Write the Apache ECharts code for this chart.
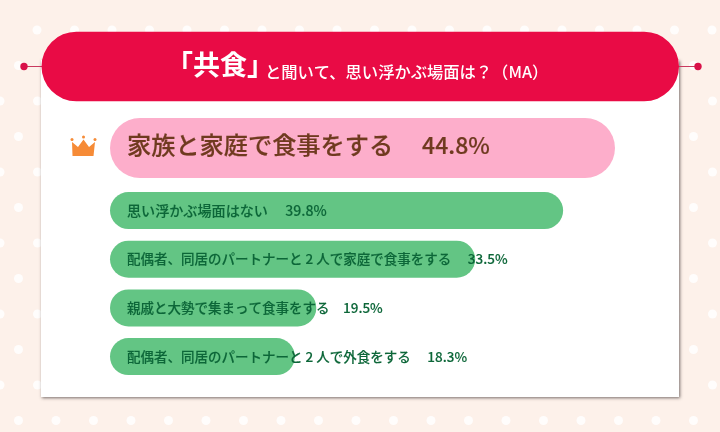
<!DOCTYPE html>
<html>
<head>
<meta charset="utf-8">
<style>
html, body { margin: 0; padding: 0; }
#chart { width: 720px; height: 432px; }
</style>
<script src="https://cdn.jsdelivr.net/npm/echarts@6/dist/echarts.min.js"></script>
</head>
<body>
<div id="chart"></div>
<script>
var categories = [
    "家族と家庭で食事をする",
    "思い浮かぶ場面はない",
    "配偶者、同居のパートナーと 2 人で家庭で食事をする",
    "親戚と大勢で集まって食事をする",
    "配偶者、同居のパートナーと 2 人で外食をする"
];
// the percentages printed in the picture
var shares = [44.8, 39.8, 33.5, 19.5, 18.3];
// the bars in the picture are not drawn to the printed percentages,
// these are their lengths as measured, in units of the same axis
var barLengths = [44.8, 40.2, 32.4, 18.3, 16.4];

var FONT = '"Noto Sans CJK JP", "Noto Sans", sans-serif';
var AXIS_MAX = 50;
var LABEL_GAPS = ["　\u2009", "　 ", "　 ", "　", "　 "];
var BROWN = "#6f3a1f";

function background_dots()
{
    var dots = [];
    var row = 0;
    for (var y = 30; y < 432; y += 35.5) {
        var start = (row % 2 == 0) ? 0 : 18.5;
        if (row == 0)
            start = 37;
        for (var x = start; x < 730; x += 37.5) {
            dots.push({
                type: "circle",
                z: -5,
                shape: { cx: x, cy: y, r: 4.5 },
                style: { fill: "#ffffff", opacity: 0.85 }
            });
        }
        row++;
    }
    return dots;
}

function frame_elements()
{
    return [
        {
            type: "rect", z: -4,
            shape: { x: 41, y: 60, width: 638, height: 337 },
            style: {
                fill: "#ffffff",
                shadowColor: "rgba(60,50,50,0.7)",
                shadowBlur: 3,
                shadowOffsetX: 1,
                shadowOffsetY: 1
            }
        },
        {
            type: "line", z: -3,
            shape: { x1: 24, y1: 66.5, x2: 44, y2: 66.5 },
            style: { stroke: "#c93a5f", lineWidth: 1 }
        },
        {
            type: "line", z: -3,
            shape: { x1: 677, y1: 66.5, x2: 698, y2: 66.5 },
            style: { stroke: "#c93a5f", lineWidth: 1 }
        },
        {
            type: "circle", z: -3,
            shape: { cx: 24, cy: 66.5, r: 3.7 },
            style: { fill: "#d9124a" }
        },
        {
            type: "circle", z: -3,
            shape: { cx: 698, cy: 66.5, r: 3.7 },
            style: { fill: "#d9124a" }
        },
        {
            type: "rect", z: -2,
            shape: { x: 41.5, y: 31.7, width: 637.5, height: 69.6, r: 34.8 },
            style: { fill: "#e90b45" }
        }
    ];
}

function crown_elements()
{
    var color = "#f68b37";
    return [
        {
            type: "polygon", z: -1,
            shape: {
                points: [[72, 142], [78, 147], [83.5, 139.5], [89, 147],
                    [95, 142], [93.5, 156], [72.5, 156]]
            },
            style: { fill: color }
        },
        { type: "circle", z: -1, shape: { cx: 72, cy: 139.5, r: 1.5 }, style: { fill: color } },
        { type: "circle", z: -1, shape: { cx: 83.5, cy: 137, r: 1.5 }, style: { fill: color } },
        { type: "circle", z: -1, shape: { cx: 95, cy: 139.5, r: 1.5 }, style: { fill: color } }
    ];
}

function share_label(index)
{
    return categories[index] + LABEL_GAPS[index] + shares[index].toFixed(1) + "%";
}

var mychart = echarts.init(document.getElementById("chart"));

var lower_bars = barLengths.slice(1).map(function(length, i) {
    if (i == 0)
        return { value: length, label: { fontSize: 14.1 } };
    return length;
});

var option = {
    animation: false,
    backgroundColor: "#fdf1ea",
    graphic: { elements: background_dots().concat(frame_elements(), crown_elements()) },
    title: [
        {
            left: 161,
            top: 46,
            text: "「共食」",
            textStyle: { fontFamily: FONT, fontSize: 27, fontWeight: 700, color: "#ffffff" }
        },
        {
            left: 260,
            top: 59,
            text: "と聞いて、思い浮かぶ場面は？（MA）",
            textStyle: { fontFamily: FONT, fontSize: 16.3, fontWeight: 500, color: "#ffffff" }
        }
    ],
    grid: [
        { left: 110, top: 118, width: 563.6, height: 60 },
        { left: 110, top: 186.2, width: 563.6, height: 194.7 }
    ],
    xAxis: [
        { gridIndex: 0, type: "value", min: 0, max: AXIS_MAX, show: false },
        { gridIndex: 1, type: "value", min: 0, max: AXIS_MAX, show: false }
    ],
    yAxis: [
        {
            gridIndex: 0, type: "category", show: false, inverse: true,
            data: categories.slice(0, 1)
        },
        {
            gridIndex: 1, type: "category", show: false, inverse: true,
            data: categories.slice(1)
        }
    ],
    series: [
        {
            type: "bar",
            xAxisIndex: 0,
            yAxisIndex: 0,
            barWidth: 60,
            data: barLengths.slice(0, 1),
            itemStyle: { color: "#fdaecb", borderRadius: 30 },
            label: {
                show: true,
                position: "insideLeft",
                distance: 17,
                offset: [0, -3],
                fontFamily: FONT,
                fontSize: 24.2,
                fontWeight: 500,
                color: BROWN,
                textBorderColor: BROWN,
                textBorderWidth: 0.2,
                rich: {
                    val: {
                        fontFamily: FONT,
                        fontSize: 23,
                        fontWeight: 500,
                        color: BROWN,
                        textBorderColor: BROWN,
                        textBorderWidth: 0.2
                    }
                },
                formatter: function(params) {
                    var i = params.dataIndex;
                    return categories[i] + LABEL_GAPS[i] + "{val|" + shares[i].toFixed(1) + "%}";
                }
            }
        },
        {
            type: "bar",
            xAxisIndex: 1,
            yAxisIndex: 1,
            barWidth: 37,
            data: lower_bars,
            itemStyle: { color: "#63c584", borderRadius: 18.5 },
            label: {
                show: true,
                position: "insideLeft",
                distance: 17,
                fontFamily: FONT,
                fontSize: 13.5,
                fontWeight: 500,
                color: "#0c6638",
                textBorderColor: "#0c6638",
                textBorderWidth: 0.12,
                formatter: function(params) {
                    return share_label(params.dataIndex + 1);
                }
            }
        }
    ]
};

mychart.setOption(option);
</script>
</body>
</html>
